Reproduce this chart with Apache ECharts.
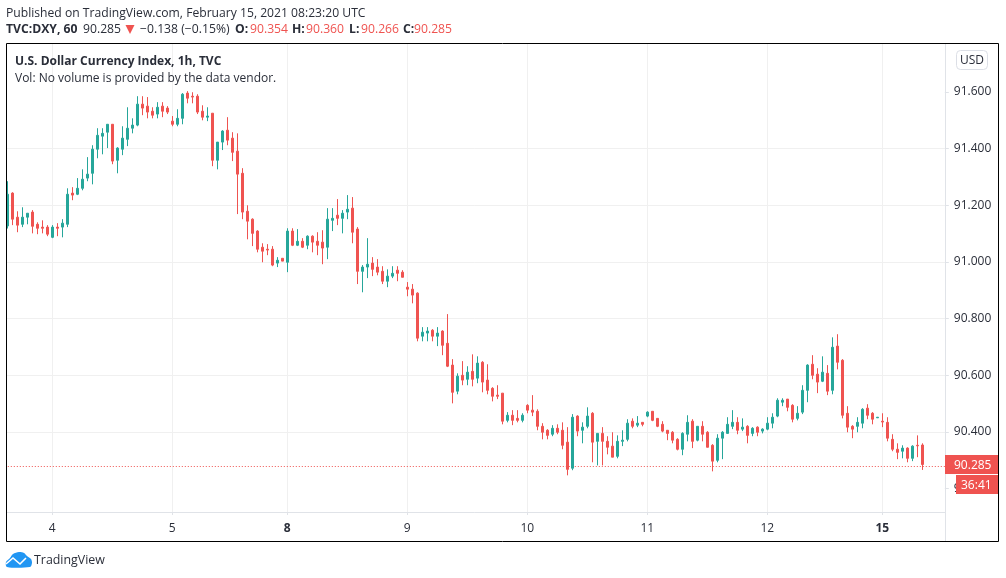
<!DOCTYPE html>
<html>
<head>
<meta charset="utf-8">
<style>html,body{margin:0;padding:0;background:#fff}#c{width:1006px;height:578px}</style>
<script src="https://cdn.jsdelivr.net/npm/echarts@6/dist/echarts.min.js"></script>
</head>
<body>
<div id="c"></div>
<script>
const opens = [
91.127,91.243,91.158,91.133,91.158,91.176,91.133,91.123,91.123,91.087,
91.123,91.123,91.133,91.243,91.239,91.260,91.296,91.313,91.398,91.444,
91.458,91.486,91.359,91.398,91.433,91.472,91.483,91.557,91.550,91.532,
91.522,91.550,91.543,91.497,91.486,91.507,91.596,91.585,91.585,91.532,
91.511,91.525,91.359,91.423,91.465,91.437,91.391,91.313,91.179,91.151,
91.109,91.052,91.045,91.045,90.996,91.013,90.999,91.109,91.059,91.073,
91.059,91.091,91.073,91.070,91.052,91.147,91.165,91.154,91.176,91.190,
91.116,90.967,90.982,90.996,90.982,90.967,90.932,90.950,90.971,90.964,
90.911,90.904,90.890,90.738,90.749,90.759,90.738,90.756,90.713,90.636,
90.544,90.600,90.586,90.614,90.590,90.646,90.583,90.554,90.530,90.537,
90.441,90.459,90.448,90.441,90.494,90.477,90.473,90.420,90.406,90.392,
90.413,90.406,90.364,90.272,90.456,90.406,90.420,90.466,90.367,90.395,
90.367,90.350,90.314,90.367,90.374,90.438,90.424,90.434,90.456,90.473,
90.448,90.427,90.406,90.399,90.374,90.339,90.392,90.438,90.371,90.420,
90.399,90.353,90.300,90.378,90.395,90.420,90.434,90.410,90.420,90.395,
90.417,90.403,90.410,90.431,90.456,90.505,90.516,90.494,90.448,90.470,
90.547,90.639,90.604,90.579,90.607,90.547,90.703,90.653,90.466,90.420,
90.420,90.431,90.484,90.466,90.450,90.438,90.434,90.374,90.339,90.332,
90.343,90.307,90.353,90.354];
const closes = [
91.239,91.151,91.130,91.158,91.172,91.126,91.119,91.119,91.098,91.123,
91.119,91.137,91.239,91.236,91.260,91.292,91.310,91.398,91.447,91.454,
91.486,91.356,91.402,91.437,91.472,91.483,91.557,91.543,91.529,91.518,
91.546,91.532,91.529,91.486,91.507,91.592,91.578,91.582,91.529,91.511,
91.515,91.359,91.423,91.462,91.430,91.387,91.310,91.176,91.144,91.101,
91.045,91.038,91.042,90.989,91.006,91.003,91.109,91.059,91.073,91.052,
91.091,91.070,91.059,91.049,91.151,91.154,91.154,91.172,91.186,91.105,
90.967,90.982,90.992,90.974,90.964,90.932,90.950,90.960,90.960,90.946,
90.904,90.883,90.731,90.752,90.756,90.738,90.749,90.706,90.632,90.540,
90.597,90.583,90.611,90.586,90.643,90.576,90.547,90.526,90.526,90.438,
90.459,90.441,90.441,90.459,90.477,90.470,90.420,90.399,90.388,90.413,
90.399,90.353,90.268,90.452,90.403,90.417,90.456,90.364,90.395,90.367,
90.346,90.311,90.367,90.371,90.431,90.420,90.431,90.427,90.470,90.441,
90.420,90.403,90.395,90.371,90.339,90.395,90.434,90.367,90.420,90.392,
90.346,90.297,90.378,90.399,90.427,90.434,90.406,90.417,90.388,90.413,
90.399,90.410,90.431,90.452,90.512,90.512,90.487,90.445,90.466,90.547,
90.636,90.600,90.576,90.611,90.544,90.699,90.646,90.459,90.417,90.410,
90.434,90.480,90.459,90.445,90.452,90.435,90.378,90.339,90.328,90.343,
90.307,90.350,90.351,90.285];
const highs = [
91.285,91.246,91.179,91.193,91.172,91.183,91.140,91.147,91.130,91.130,
91.137,91.151,91.260,91.264,91.296,91.327,91.370,91.412,91.472,91.472,
91.486,91.486,91.405,91.479,91.546,91.507,91.585,91.585,91.582,91.546,
91.564,91.564,91.550,91.515,91.539,91.596,91.603,91.599,91.592,91.553,
91.546,91.525,91.423,91.465,91.511,91.458,91.454,91.331,91.200,91.154,
91.112,91.066,91.063,91.056,91.017,91.013,91.119,91.119,91.116,91.084,
91.094,91.094,91.105,91.112,91.190,91.190,91.222,91.183,91.236,91.229,
91.123,90.989,91.084,91.017,91.010,90.985,90.974,90.985,90.985,90.971,
90.929,90.922,90.893,90.770,90.770,90.763,90.770,90.759,90.816,90.657,
90.607,90.650,90.632,90.674,90.667,90.650,90.639,90.558,90.565,90.537,
90.470,90.477,90.477,90.466,90.498,90.530,90.480,90.431,90.410,90.424,
90.427,90.434,90.417,90.463,90.459,90.434,90.487,90.470,90.395,90.417,
90.385,90.399,90.388,90.406,90.445,90.448,90.456,90.434,90.473,90.473,
90.448,90.438,90.406,90.403,90.378,90.399,90.459,90.445,90.420,90.438,
90.403,90.357,90.392,90.403,90.452,90.477,90.452,90.448,90.424,90.417,
90.420,90.413,90.452,90.466,90.519,90.519,90.516,90.498,90.491,90.565,
90.639,90.671,90.625,90.667,90.636,90.734,90.745,90.657,90.491,90.424,
90.452,90.484,90.498,90.470,90.452,90.466,90.452,90.392,90.360,90.353,
90.346,90.353,90.388,90.360];
const lows = [
91.118,91.130,91.105,91.123,91.133,91.101,91.098,91.101,91.091,91.084,
91.091,91.087,91.123,91.218,91.236,91.253,91.285,91.274,91.366,91.380,
91.402,91.345,91.313,91.377,91.409,91.454,91.479,91.518,91.507,91.507,
91.507,91.511,91.522,91.479,91.479,91.486,91.560,91.560,91.522,91.500,
91.497,91.338,91.327,91.395,91.412,91.356,91.169,91.151,91.080,91.056,
91.034,90.999,91.024,90.985,90.982,91.003,90.964,91.056,91.056,91.049,
91.045,91.034,91.024,90.992,91.010,91.109,91.130,91.101,91.151,91.066,
90.922,90.893,90.943,90.950,90.953,90.922,90.911,90.943,90.932,90.946,
90.879,90.854,90.720,90.720,90.720,90.720,90.703,90.671,90.629,90.501,
90.533,90.565,90.565,90.561,90.572,90.540,90.533,90.508,90.516,90.427,
90.434,90.424,90.434,90.434,90.466,90.456,90.406,90.374,90.374,90.385,
90.392,90.339,90.247,90.265,90.385,90.360,90.413,90.293,90.282,90.282,
90.321,90.311,90.307,90.350,90.367,90.413,90.417,90.420,90.452,90.438,
90.417,90.399,90.371,90.360,90.335,90.318,90.367,90.343,90.367,90.367,
90.346,90.261,90.293,90.304,90.395,90.410,90.392,90.403,90.360,90.385,
90.385,90.395,90.406,90.413,90.452,90.491,90.473,90.434,90.441,90.463,
90.505,90.586,90.537,90.576,90.530,90.533,90.621,90.448,90.399,90.378,
90.399,90.413,90.445,90.427,90.450,90.417,90.367,90.332,90.304,90.307,
90.293,90.297,90.311,90.266];

const dayTickBars = [9,33,56,80,104,128,152,175];
const dayTickLabels = ['4','5','8','9','10','11','12','15'];
const weekStartLabels = ['8','15'];
const priceTicks = [90.2,90.4,90.6,90.8,91.0,91.2,91.4,91.6];
const lastPrice = 90.285;
const slotCount = 188;

const FONT = '"Open Sans","Noto Sans",sans-serif';
const INK = '#2a2e39', RED = '#ef5350', GREEN = '#26a69a', GRID = '#f0f0f0', SEP = '#e0e3e8';

const slots = Array.from({length: slotCount}, (_, i) => String(i));
const candles = opens.map((o, i) => [o, closes[i], lows[i], highs[i]]);
const isDayTick = i => dayTickBars.includes(i);

const txt = (x, y, text, o = {}) => ({
  type: 'text', x, y, z: 30, silent: true,
  style: {text, fill: o.fill || INK, font: `${o.bold ? 'bold ' : ''}${o.size || 12}px ${FONT}`,
          textVerticalAlign: 'middle', textBaseline: 'middle', textAlign: o.align || 'left'}
});

const chart = echarts.init(document.getElementById('c'), null, {renderer: 'canvas'});
chart.setOption({
  animation: false,
  backgroundColor: '#fff',
  grid: [
    {left: 4.8, top: 35.3, width: 940, height: 510},
    {left: 4.8, top: 44, width: 940, height: 468}
  ],
  xAxis: [
    {gridIndex: 0, type: 'category', data: slots, show: false},
    {gridIndex: 1, type: 'category', data: slots,
     axisLine: {show: true, lineStyle: {color: SEP}},
     axisTick: {show: true, length: 3, alignWithLabel: true, interval: i => isDayTick(i), lineStyle: {color: SEP}},
     splitLine: {show: true, alignWithLabel: true, interval: i => isDayTick(i), lineStyle: {color: GRID, width: 1}},
     axisLabel: {
       show: true, interval: i => isDayTick(i), margin: 11,
       hideOverlap: false,
       formatter: (v, i) => {
         const s = dayTickLabels[dayTickBars.indexOf(Number(v))] || '';
         return weekStartLabels.includes(s) ? `{b|${s}}` : s;
       },
       color: INK, fontFamily: FONT, fontSize: 12,
       rich: {b: {fontWeight: 'bold', color: INK, fontFamily: FONT, fontSize: 12}}
     }}
  ],
  yAxis: [
    {gridIndex: 0, type: 'value', position: 'right', min: 90, max: 91.8, interval: 0.2,
     axisLine: {show: false},
     axisTick: {show: true, length: 4, customValues: priceTicks, lineStyle: {color: SEP}},
     splitLine: {show: true, showMinLine: false, showMaxLine: false, lineStyle: {color: GRID, width: 1}},
     axisLabel: {show: true, customValues: priceTicks, margin: 9, padding: [4, 0, 0, 0], color: INK, fontFamily: FONT, fontSize: 12,
                 formatter: v => Number(v).toFixed(3)}},
    {gridIndex: 1, type: 'value', min: 0, max: 1, show: false}
  ],
  series: [{
    type: 'candlestick', xAxisIndex: 0, yAxisIndex: 0, data: candles,
    barWidth: 3, silent: true, z: 5,
    itemStyle: {color: GREEN, color0: RED, borderColor: GREEN, borderColor0: RED, borderWidth: 1},
    markLine: {
      silent: true, symbol: 'none', animation: false,
      label: {show: false},
      lineStyle: {color: RED, type: [1, 2], width: 1, opacity: 1},
      data: [{yAxis: lastPrice}]
    }
  }],
  graphic: [
    {type: 'rect', z: 20, silent: true, shape: {x: 0, y: 40, width: 6, height: 510}, style: {fill: '#fff'}},
    {type: 'line', z: 21, silent: true, shape: {x1: 945.5, y1: 44, x2: 945.5, y2: 542}, style: {stroke: SEP, lineWidth: 1}},
    {type: 'rect', z: 22, silent: true, shape: {x: 6.5, y: 43.5, width: 992, height: 498}, style: {fill: 'none', stroke: '#000', lineWidth: 1}},

    txt(6, 14, 'Published on TradingView.com, February 15, 2021 08:23:20 UTC', {size: 12.15}),
    txt(6, 30, 'TVC:DXY, 60', {bold: true, size: 12.2}),
    txt(83, 30, '90.285', {size: 12.2}),
    {type: 'polygon', z: 30, silent: true, shape: {points: [[125.5, 25], [134.5, 25], [130, 34]]}, style: {fill: RED}},
    txt(140, 30, '−0.138 (−0.15%)', {size: 12.2}),
    txt(235, 30, 'O:', {bold: true, size: 12.2}),
    txt(250, 30, '90.354', {fill: RED, size: 12.2}),
    txt(292, 30, 'H:', {bold: true, size: 12.2}),
    txt(306, 30, '90.360', {fill: RED, size: 12.2}),
    txt(349, 30, 'L:', {bold: true, size: 12.2}),
    txt(361, 30, '90.266', {fill: RED, size: 12.2}),
    txt(403, 30, 'C:', {bold: true, size: 12.2}),
    txt(414, 30, '90.285', {fill: RED, size: 12.2}),

    txt(15, 62, 'U.S. Dollar Currency Index, 1h, TVC', {bold: true}),
    txt(15, 79, 'Vol: No volume is provided by the data vendor.'),

    {type: 'rect', z: 30, silent: true, shape: {x: 956.5, y: 50.5, width: 31, height: 19, r: 4},
     style: {fill: '#fff', stroke: '#dcdfe6', lineWidth: 1}},
    txt(972, 60.5, 'USD', {align: 'center'}),

    {type: 'rect', z: 30, silent: true, shape: {x: 945, y: 455, width: 53, height: 19}, style: {fill: RED}},
    txt(954, 465.5, '90.285', {fill: '#fff'}),
    {type: 'rect', z: 30, silent: true, shape: {x: 956, y: 475, width: 42, height: 19}, style: {fill: RED}},
    txt(961, 485.5, '36:41', {fill: '#fff'}),

    {type: 'polygon', z: 30, silent: true,
     shape: {smooth: 0.3, points: [[7,567],[6,562],[10,558],[13,554],[19,552],[24,553],[27,556],[31,559],[32,563],[30,567]]},
     style: {fill: '#2196f3'}},
    {type: 'polyline', z: 31, silent: true,
     shape: {points: [[6, 564], [13, 558], [20, 564], [26, 558]]},
     style: {stroke: '#fff', fill: 'none', lineWidth: 1.6}},
    txt(34, 560.5, 'TradingView', {size: 12.4})
  ]
});
</script>
</body>
</html>
